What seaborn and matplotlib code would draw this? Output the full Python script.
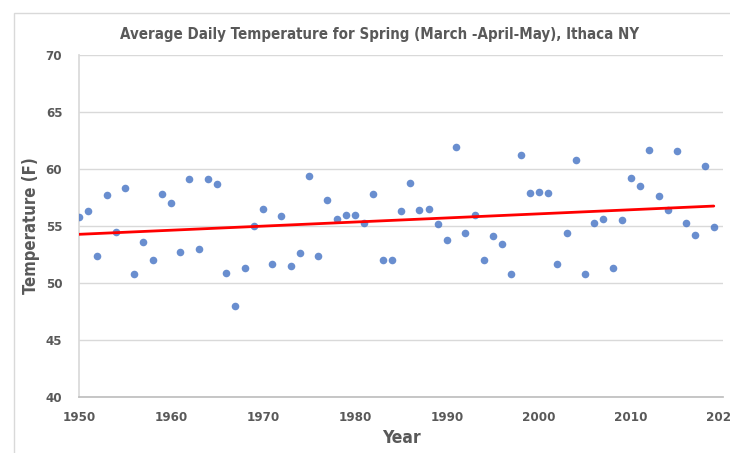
import numpy as np
import pandas as pd
import seaborn as sns
import matplotlib.pyplot as plt
from matplotlib.patches import Rectangle

# spring mean temperatures, Ithaca NY
years = list(range(1950, 2020))
temps = [55.8, 56.3, 52.4, 57.7, 54.5, 58.3, 50.8, 53.6, 52.0, 57.8,
         57.0, 52.7, 59.1, 53.0, 59.1, 58.7, 50.9, 48.0, 51.3, 55.0,
         56.5, 51.7, 55.9, 51.5, 52.6, 59.4, 52.4, 57.3, 55.6, 56.0,
         56.0, 55.3, 57.8, 52.0, 52.0, 56.3, 58.8, 56.4, 56.5, 55.2,
         53.8, 61.9, 54.4, 56.0, 52.0, 54.1, 53.4, 50.8, 61.2, 57.9,
         58.0, 57.9, 51.7, 54.4, 60.8, 50.8, 55.3, 55.6, 51.3, 55.5,
         59.2, 58.5, 61.7, 57.6, 56.4, 61.6, 55.3, 54.2, 60.3, 54.9]
x_ticks = [1950, 1960, 1970, 1980, 1990, 2000, 2010, 2020]
y_ticks = [40, 45, 50, 55, 60, 65, 70]

df = pd.DataFrame({'Year': years, 'Temp': temps})

sns.set_theme(style="white")
plt.rcParams['font.family'] = ['DejaVu Sans']
plt.rcParams['font.stretch'] = 'condensed'
gray = '#595959'

fig = plt.figure(figsize=(7.3, 4.53), dpi=100)
ax = fig.add_axes([79 / 730, 1 - 397 / 453, (723 - 79) / 730, (397 - 55) / 453])

fig.patches.append(Rectangle((14 / 730, -0.1), 1.0, 1 - 13 / 453 + 0.1,
                             transform=fig.transFigure, fill=False,
                             edgecolor='#d9d9d9', linewidth=1, zorder=0))

sns.regplot(data=df, x='Year', y='Temp', ax=ax, ci=None,
            scatter_kws={'s': 30, 'color': '#4472C4', 'linewidths': 0, 'zorder': 3},
            line_kws={'color': '#ff0000', 'linewidth': 2.0, 'zorder': 4})

ax.set_xlim(1950, 2020)
ax.set_ylim(40, 70)
ax.set_xticks(x_ticks)
ax.set_yticks(y_ticks)
ax.grid(axis='y', color='#d9d9d9', linewidth=1)
ax.grid(axis='x', visible=False)
for s in ['top', 'right']:
    ax.spines[s].set_visible(False)
ax.spines['left'].set_color('#d9d9d9')
ax.spines['bottom'].set_color('#bfbfbf')
ax.tick_params(axis='both', length=0, labelsize=9.5, labelcolor=gray, pad=10)
for lab in ax.get_xticklabels() + ax.get_yticklabels():
    lab.set_fontweight('bold')
ax.tick_params(axis='y', pad=12)

ax.set_xlabel('Year', fontsize=12.5, fontweight='bold', color=gray, labelpad=4)
ax.set_ylabel('Temperature (F)', fontsize=12, fontweight='bold', color=gray, labelpad=4)
fig.text(380 / 730, 1 - 35 / 453,
         'Average Daily Temperature for Spring (March -April-May), Ithaca NY',
         ha='center', va='center', fontsize=10.8, fontweight='bold', color=gray)

fig.savefig('out.png', dpi=100)
